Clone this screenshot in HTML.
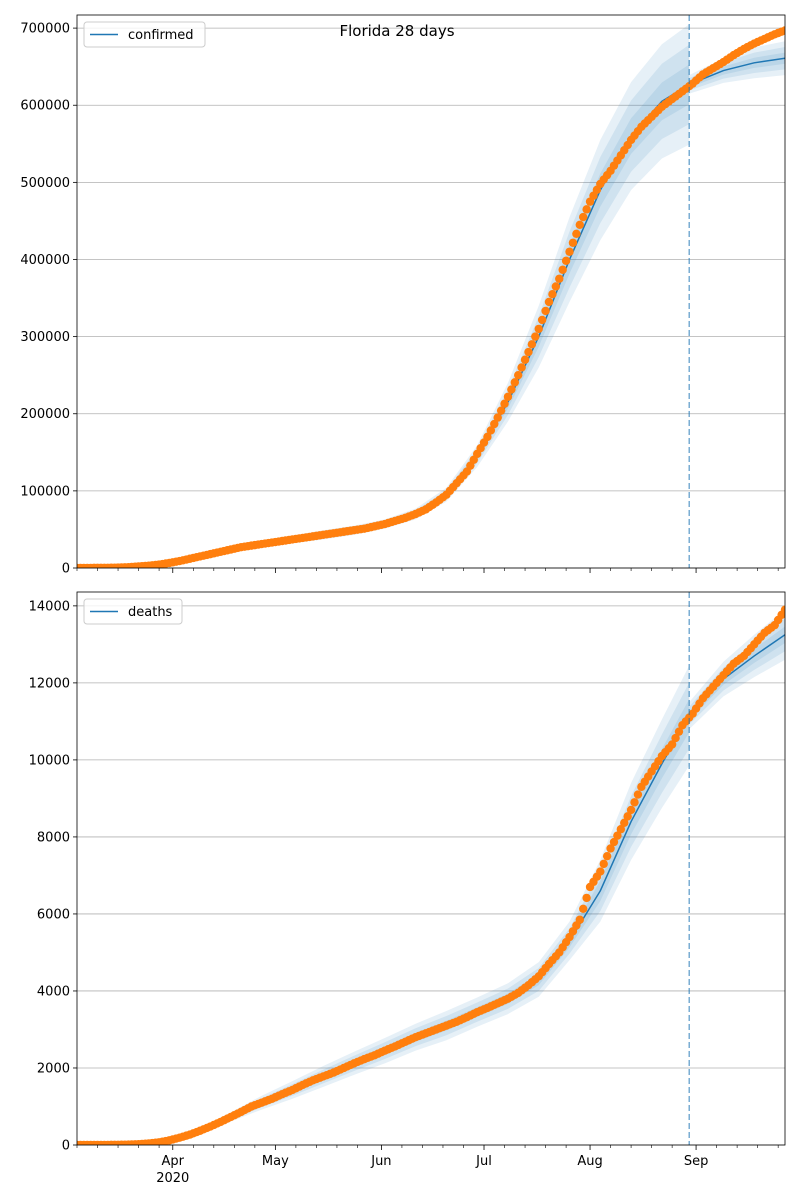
<!DOCTYPE html>
<html><head><meta charset="utf-8"><style>
body{margin:0;background:#fff;}
svg{display:block;font-family:"DejaVu Sans","Liberation Sans",sans-serif;}
</style></head><body>
<svg id="chart" width="800" height="1200"></svg>
<script>
const obsDays = [];
for (let d = 0; d <= 207; d += 3) obsDays.push(d);
const confirmedObs = [0.1,0.1,0.2,0.3,0.5,1,2,3,4.5,6.5,9,12,15,18,21,24,27,29,31,33,35,37,39,41,43,45,47,49,51,54,57,61,65,70,76,85,95,110,125,148,170,195,222,250,280,310,345,375,410,445,475,498,515,535,555,572,585,598,608,618,628,640,648,656,665,673,680,686,692,697];
const deathsObs = [0,0,0,2,5,10,20,40,70,120,190,270,370,480,600,730,860,1000,1100,1200,1320,1430,1560,1680,1780,1880,2000,2120,2230,2330,2450,2560,2680,2800,2900,3000,3100,3200,3320,3450,3560,3680,3800,3950,4150,4380,4700,5000,5400,5850,6700,7100,7700,8200,8700,9300,9700,10100,10400,10900,11200,11600,11900,12200,12500,12700,13000,13300,13500,13900];
const fitDays = [0,9,18,27,36,45,54,63,72,81,90,99,108,117,126,135,144,153,162,171,179,179,189,198,207];
const confirmedFit = [0,0.3,2,6,15,24,31,37,43,49,57,70,95,145,215,300,400,490,560,605,627,627,645,655,661];
const confirmedWidth = [0.3,0.5,1,2,3,4,5,5,6,6,6,7,9,14,25,40,55,65,70,74,78,12,16,20,22];
const deathsFit = [0,1,20,110,360,730,1100,1430,1780,2120,2450,2800,3100,3450,3800,4300,5300,6600,8400,9900,11150,11150,12100,12700,13250];
const deathsWidth = [5,10,20,40,80,120,180,230,270,300,330,350,380,380,400,450,500,800,1000,1150,1300,350,450,550,650];
const monthLabels = ["Apr","May","Jun","Jul","Aug","Sep"];
const monthDays = [28,58,89,119,150,181];
const minorDays = [0,6,12,18,24,34,40,46,52,64,70,76,82,95,101,107,113,125,131,137,143,156,162,168,174,187,193,199,205];
const confTicks = [0,100000,200000,300000,400000,500000,600000,700000];
const deathTicks = [0,2000,4000,6000,8000,10000,12000,14000];
const cutDay = 179;

const NS = "http://www.w3.org/2000/svg";
const svg = document.getElementById('chart');
function mk(tag, attrs, parent){const e=document.createElementNS(NS,tag);for(const k in attrs)e.setAttribute(k,attrs[k]);(parent||svg).appendChild(e);return e;}
const X0=77,X1=785;
const xs = d => X0 + d*(X1-X0)/207;

function panel(name, top, bottom, ymax, obs, scale, fit, width, ticks, legend, showLabels){
  const ys = v => bottom - v/ymax*(bottom-top);
  const g = mk('g',{});
  
  
  mk('defs',{},g).innerHTML = `<clipPath id="clip-${name}"><rect x="${X0}" y="${top}" width="${X1-X0}" height="${bottom-top}"/></clipPath>`;
  ticks.forEach(t=>{
    const y=ys(t);
    const gl=mk('line',{x1:X0,x2:X1,y1:y,y2:y,stroke:'#b0b0b0','stroke-width':0.8},g);
    
    
    mk('line',{x1:X0-4,x2:X0,y1:y,y2:y,stroke:'#000','stroke-width':0.8},g);
    const tx=mk('text',{x:X0-7,y:y+4.5,'text-anchor':'end','font-size':13},g);
    tx.textContent=String(t);
    
    
  });
  const cg = mk('g',{'clip-path':`url(#clip-${name})`},g);
  [1,0.66,0.33].forEach(f=>{
    let up=[],dn=[];
    fitDays.forEach((d,i)=>{const v=fit[i]*scale,w=width[i]*scale*f;up.push(xs(d)+','+ys(v+w));dn.unshift(xs(d)+','+ys(Math.max(0,v-w)));});
    const p=mk('polygon',{points:up.concat(dn).join(' '),fill:'#1f77b4','fill-opacity':0.11},cg);
    
    
  });
  const fl=mk('polyline',{points:fitDays.map((d,i)=>xs(d)+','+ys(fit[i]*scale)).join(' '),fill:'none',stroke:'#1f77b4','stroke-width':1.5},cg);
  
  
  // observed dots, interpolated to daily for dense appearance
  for(let i=0;i<obs.length;i++){
    const c=mk('circle',{cx:xs(obsDays[i]),cy:ys(obs[i]*scale),r:4.2,fill:'#ff7f0e'},cg);
    
    
    if(i<obs.length-1){
      for(let k=1;k<3;k++){
        const d=obsDays[i]+k, v=obs[i]+(obs[i+1]-obs[i])*k/3;
        const c2=mk('circle',{cx:xs(d),cy:ys(v*scale),r:4.2,fill:'#ff7f0e'},cg);
        
        
      }
    }
  }
  const vl=mk('line',{x1:xs(cutDay),x2:xs(cutDay),y1:top,y2:bottom,stroke:'#1f77b4','stroke-opacity':0.6,'stroke-width':1.5,'stroke-dasharray':'6,3'},g);
  
  
  const fr=mk('rect',{x:X0,y:top,width:X1-X0,height:bottom-top,fill:'none',stroke:'#000','stroke-width':0.8},g);
  
  
  monthDays.forEach((d,i)=>{
    mk('line',{x1:xs(d),x2:xs(d),y1:bottom,y2:bottom+5,stroke:'#000','stroke-width':0.8},g);
    if(showLabels){
      const t=mk('text',{x:xs(d),y:bottom+20,'text-anchor':'middle','font-size':13},g);
      t.textContent=monthLabels[i];
      
      
      if(i===0){const t2=mk('text',{x:xs(d),y:bottom+37,'text-anchor':'middle','font-size':13},g);t2.textContent='2020';
        
        }
    }
  });
  minorDays.forEach(d=>mk('line',{x1:xs(d),x2:xs(d),y1:bottom,y2:bottom+3,stroke:'#000','stroke-width':0.6},g));
  const lg=mk('g',{},g);
  
  
  const lw = legend==='confirmed'?121:98;
  mk('rect',{x:84,y:top+7,width:lw,height:25,rx:3,fill:'#fff','fill-opacity':0.8,stroke:'#ccc'},lg);
  mk('line',{x1:90,x2:118,y1:top+19.5,y2:top+19.5,stroke:'#1f77b4','stroke-width':1.5},lg);
  const lt=mk('text',{x:128,y:top+24,'font-size':13},lg);lt.textContent=legend;
}
panel('confirmed',15,568,717000,confirmedObs,1000,confirmedFit,confirmedWidth,confTicks,'confirmed',false);
panel('deaths',592,1145,14360,deathsObs,1,deathsFit,deathsWidth,deathTicks,'deaths',true);
const title=mk('text',{x:397,y:36,'text-anchor':'middle','font-size':15});
title.textContent='Florida 28 days';


</script>
</body></html>
